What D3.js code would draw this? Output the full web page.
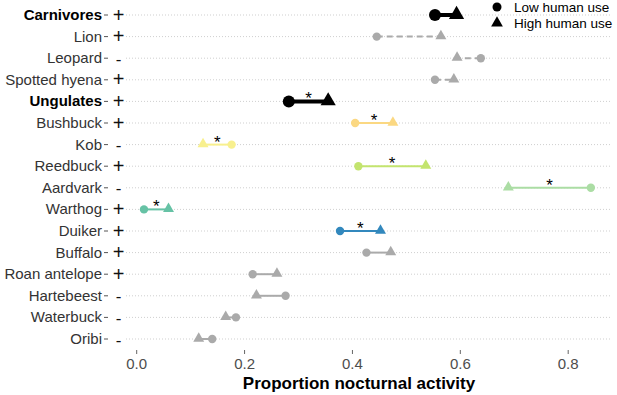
<!DOCTYPE html>
<html><head><meta charset="utf-8">
<script src="https://cdn.jsdelivr.net/npm/d3@7"></script>
<style>body{margin:0;background:#fff}svg{display:block;font-family:"Liberation Sans",Arial,sans-serif}</style>
</head><body><svg id="c" width="617" height="395"></svg>
<script>
const species = ["Carnivores","Lion","Leopard","Spotted hyena","Ungulates","Bushbuck","Kob","Reedbuck","Aardvark","Warthog","Duiker","Buffalo","Roan antelope","Hartebeest","Waterbuck","Oribi"];
const lowUse  = [0.553,0.445,0.638,0.553,0.282,0.405,0.176,0.411,0.842,0.0135,0.377,0.426,0.215,0.276,0.184,0.140];
const highUse = [0.593,0.564,0.594,0.588,0.355,0.475,0.123,0.536,0.689,0.059,0.452,0.471,0.260,0.222,0.165,0.115];
const signs   = ["+","+","-","+","+","+","-","+","-","+","+","+","+","-","-","-"];
const signif  = [false,false,false,false,true,true,true,true,true,true,true,false,false,false,false,false];
const groups  = ["Carnivores","Ungulates"];
const dashed  = ["Lion","Leopard","Spotted hyena"];
const colors  = ["#000000","#aaaaaa","#aaaaaa","#aaaaaa","#000000","#fbd882","#f8f08e","#c3e46e","#abdda4","#66c2a5","#3288bd","#aaaaaa","#aaaaaa","#aaaaaa","#aaaaaa","#aaaaaa"];
const xTicks  = [0,0.2,0.4,0.6,0.8];
const legendLabels = ["Low human use","High human use"];

const svg = d3.select("#c");
const x = d3.scaleLinear().domain([0,0.8]).range([136.7,568.2]);
const y = d3.scalePoint().domain(species).range([15,339]);

// gridlines
svg.append("g").selectAll("line").data(species).join("line")
  .attr("x1",126).attr("x2",611).attr("y1",d=>y(d)).attr("y2",d=>y(d))
  .attr("stroke","#cfcfcf").attr("stroke-width",1).attr("stroke-dasharray","1,2");

// y axis labels + ticks
const yg = svg.append("g");
yg.selectAll("text.lab").data(species).join("text").attr("class","lab")
  .attr("x",102).attr("y",d=>y(d)+5).attr("text-anchor","end")
  .attr("font-size",15)
  .attr("font-weight",d=>groups.includes(d)?"bold":"normal")
  .attr("fill",d=>groups.includes(d)?"#000":"#333")
  .text(d=>d);
yg.selectAll("line").data(species).join("line")
  .attr("x1",104).attr("x2",108).attr("y1",d=>y(d)).attr("y2",d=>y(d))
  .attr("stroke","#555").attr("stroke-width",1);
yg.selectAll("text.sign").data(species).join("text").attr("class","sign")
  .attr("x",118.5).attr("y",(d,i)=>y(d)+6.5).attr("text-anchor","middle")
  .attr("font-size",(d,i)=>signs[i]==="+"?20:17).attr("fill","#111")
  .text((d,i)=>signs[i]);

// x axis
const xg = svg.append("g");
xg.selectAll("line").data(xTicks).join("line")
  .attr("x1",d=>x(d)).attr("x2",d=>x(d)).attr("y1",350).attr("y2",354)
  .attr("stroke","#666").attr("stroke-width",1);
xg.selectAll("text").data(xTicks).join("text")
  .attr("x",d=>x(d)).attr("y",369).attr("text-anchor","middle")
  .attr("font-size",15).attr("fill","#4d4d4d").text(d3.format(".1f"));
svg.append("text").attr("x",359).attr("y",389).attr("text-anchor","middle")
  .attr("font-size",17).attr("font-weight","bold").attr("fill","#000")
  .text("Proportion nocturnal activity");

// segments
const rows = species.map((s,i)=>({s,i,lo:lowUse[i],hi:highUse[i],c:colors[i],big:groups.includes(s)}));
svg.append("g").selectAll("line").data(rows).join("line")
  .attr("x1",d=>x(d.lo)).attr("x2",d=>x(d.hi)).attr("y1",d=>y(d.s)).attr("y2",d=>y(d.s))
  .attr("stroke",d=>d.c).attr("stroke-width",d=>d.big?4:2)
  .attr("stroke-dasharray",d=>dashed.includes(d.s)?"6,4":null);

// points
const tri = d3.symbol().type(d3.symbolTriangle);
const pg = svg.append("g");
pg.selectAll("circle").data(rows).join("circle")
  .attr("cx",d=>x(d.lo)).attr("cy",d=>y(d.s)).attr("r",d=>d.big?6:4.2).attr("fill",d=>d.c);
pg.selectAll("path").data(rows).join("path")
  .attr("transform",d=>`translate(${x(d.hi)},${y(d.s)-0.5})`)
  .attr("d",d=>tri.size(d.big?100:52)()).attr("fill",d=>d.c);

// asterisks
svg.append("g").selectAll("text").data(rows.filter(d=>signif[d.i])).join("text")
  .attr("x",d=>(x(d.lo)+x(d.hi))/2).attr("y",d=>y(d.s)+3).attr("text-anchor","middle")
  .attr("font-size",17).attr("fill","#000").text("*");

// legend
const lg = svg.append("g");
lg.append("circle").attr("cx",497).attr("cy",7).attr("r",4.5).attr("fill","#000");
lg.append("path").attr("transform","translate(497,23)").attr("d",d3.symbol().type(d3.symbolTriangle).size(60)()).attr("fill","#000");
lg.selectAll("text").data(legendLabels).join("text")
  .attr("x",514).attr("y",(d,i)=>12+i*16).attr("font-size",13.5).attr("fill","#000").text(d=>d);
</script></body></html>
